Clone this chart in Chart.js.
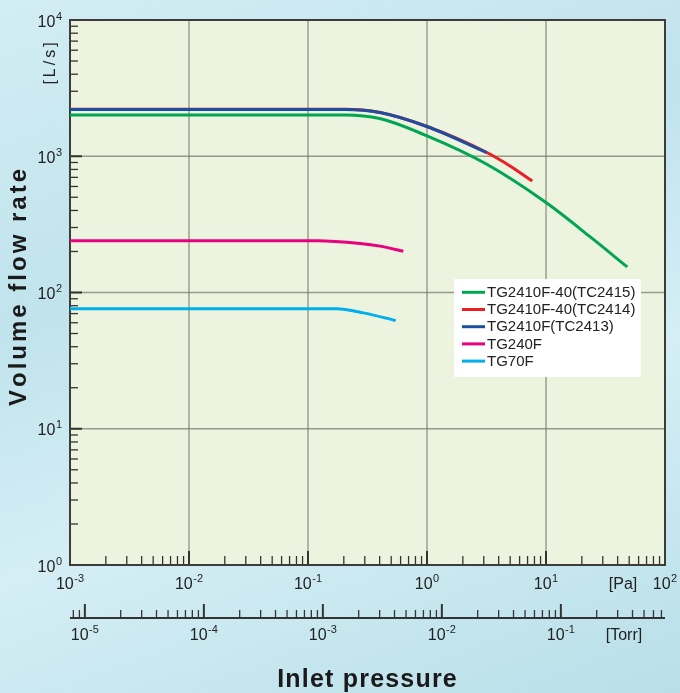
<!DOCTYPE html>
<html>
<head>
<meta charset="utf-8">
<script src="https://cdn.jsdelivr.net/npm/chart.js@4.4.1/dist/chart.umd.min.js"></script>
<style>
  html, body { margin: 0; padding: 0; }
  body {
    width: 680px; height: 693px; overflow: hidden;
    background: linear-gradient(160deg, #d3edf4 0%, #c0e3ec 35%, #d5eef5 62%, #b8dfe8 100%);
  }
  canvas { display: block; }
</style>
</head>
<body>
<canvas id="myChart" width="680" height="693"></canvas>
<script>
// volume flow rate vs inlet pressure
var seriesLabels = ['TG2410F-40(TC2415)', 'TG2410F-40(TC2414)', 'TG2410F(TC2413)', 'TG240F', 'TG70F'];
var seriesColors = ['#00a651', '#ee1c25', '#1d4ea0', '#e8007f', '#00afec'];

// pressure [Pa] and flow [L/s]
var xGreen = [0.001, 0.205, 0.40, 1, 3.18, 10, 23.4, 48.2];
var yGreen = [2010, 2010, 1890, 1410, 873, 457, 257, 154];
var xRed = [0.001, 0.205, 0.403, 1, 3.18, 4.98, 7.67];
var yRed = [2210, 2210, 2094, 1653, 1065, 849, 658];
var xBlue = [0.001, 0.205, 0.403, 1, 3.18];
var yBlue = [2207, 2207, 2094, 1653, 1065];
var xPink = [0.001, 0.119, 0.274, 0.403, 0.632];
var yPink = [240, 240, 229, 219, 201];
var xCyan = [0.001, 0.174, 0.292, 0.546];
var yCyan = [76, 76, 70.9, 62.2];

// tick labels (powers of ten)
var paExponents = [-3, -2, -1, 0, 1, 2];
var torrExponents = [-5, -4, -3, -2, -1];
var flowExponents = [0, 1, 2, 3, 4];
var PA_PER_TORR = 133.322;

var FONT = '"Liberation Sans", Arial, sans-serif';

function pts(xs, ys) {
  return xs.map(function (v, i) { return { x: v, y: ys[i] }; });
}

function drawPow(ctx, exp, x, y, align) {
  ctx.font = '16px ' + FONT;
  var wb = ctx.measureText('10').width;
  ctx.font = '11px ' + FONT;
  var we = ctx.measureText(String(exp)).width;
  var w = wb + we + 0.5;
  var x0 = align === 'right' ? x - w : x - w / 2;
  ctx.textAlign = 'left';
  ctx.textBaseline = 'alphabetic';
  ctx.font = '16px ' + FONT;
  ctx.fillText('10', x0, y);
  ctx.font = '11px ' + FONT;
  ctx.fillText(String(exp), x0 + wb + 0.5, y - 7);
}

function spaced(ctx, text, x, y, sp) {
  var chars = text.split('');
  var total = 0;
  chars.forEach(function (c) { total += ctx.measureText(c).width; });
  total += sp * (chars.length - 1);
  var cx = x - total / 2;
  ctx.textAlign = 'left';
  chars.forEach(function (c) {
    ctx.fillText(c, cx, y);
    cx += ctx.measureText(c).width + sp;
  });
}

var decor = {
  id: 'decor',
  beforeDatasetsDraw: function (chart) {
    var ctx = chart.ctx, a = chart.chartArea;
    var xs = chart.scales.x, ys = chart.scales.y;
    ctx.save();
    ctx.fillStyle = '#ecf3de';
    ctx.fillRect(a.left, a.top, a.right - a.left, a.bottom - a.top);

    // major grid
    ctx.strokeStyle = 'rgba(115,115,105,0.7)';
    ctx.lineWidth = 1.4;
    paExponents.forEach(function (e) {
      var px = xs.getPixelForValue(Math.pow(10, e));
      ctx.beginPath(); ctx.moveTo(px, a.top); ctx.lineTo(px, a.bottom); ctx.stroke();
    });
    flowExponents.forEach(function (e) {
      var py = ys.getPixelForValue(Math.pow(10, e));
      ctx.beginPath(); ctx.moveTo(a.left, py); ctx.lineTo(a.right, py); ctx.stroke();
    });

    // inner ticks
    ctx.strokeStyle = '#333';
    paExponents.forEach(function (e, i) {
      var px = xs.getPixelForValue(Math.pow(10, e));
      ctx.lineWidth = 2;
      ctx.beginPath(); ctx.moveTo(px, a.bottom); ctx.lineTo(px, a.bottom - 14); ctx.stroke();
      if (i === paExponents.length - 1) return;
      ctx.lineWidth = 1.3;
      for (var m = 2; m <= 9; m++) {
        var q = xs.getPixelForValue(m * Math.pow(10, e));
        ctx.beginPath(); ctx.moveTo(q, a.bottom); ctx.lineTo(q, a.bottom - 9); ctx.stroke();
      }
    });
    flowExponents.forEach(function (e, i) {
      var py = ys.getPixelForValue(Math.pow(10, e));
      ctx.lineWidth = 2;
      ctx.beginPath(); ctx.moveTo(a.left, py); ctx.lineTo(a.left + 12, py); ctx.stroke();
      if (i === flowExponents.length - 1) return;
      ctx.lineWidth = 1.3;
      for (var m = 2; m <= 9; m++) {
        var q = ys.getPixelForValue(m * Math.pow(10, e));
        ctx.beginPath(); ctx.moveTo(a.left, q); ctx.lineTo(a.left + 8, q); ctx.stroke();
      }
    });

    // frame
    ctx.strokeStyle = '#3c3c3c';
    ctx.lineWidth = 2;
    ctx.strokeRect(a.left, a.top, a.right - a.left, a.bottom - a.top);
    ctx.restore();
  },
  afterDatasetsDraw: function (chart) {
    var ctx = chart.ctx, a = chart.chartArea;
    var xs = chart.scales.x, ys = chart.scales.y, ts = chart.scales.torr;
    ctx.save();
    ctx.fillStyle = '#222';

    // tick labels
    flowExponents.forEach(function (e) {
      var py = ys.getPixelForValue(Math.pow(10, e));
      drawPow(ctx, e, 62, py + 6.5, 'right');
    });
    paExponents.forEach(function (e) {
      var px = xs.getPixelForValue(Math.pow(10, e));
      drawPow(ctx, e, px, a.bottom + 24, 'center');
    });
    ctx.font = '16px ' + FONT;
    ctx.textAlign = 'center';
    ctx.fillText('[Pa]', 623, a.bottom + 24);

    // Torr axis
    var ty = a.bottom + 53;
    ctx.strokeStyle = '#333';
    ctx.lineWidth = 2;
    ctx.beginPath(); ctx.moveTo(a.left, ty); ctx.lineTo(a.right, ty); ctx.stroke();
    for (var e = -6; e <= -1; e++) {
      for (var m = 1; m <= 9; m++) {
        var v = m * Math.pow(10, e);
        if (v < ts.min || v > ts.max) continue;
        var px = ts.getPixelForValue(v);
        ctx.lineWidth = m === 1 ? 2 : 1.3;
        ctx.beginPath(); ctx.moveTo(px, ty); ctx.lineTo(px, ty - (m === 1 ? 14 : 8)); ctx.stroke();
      }
    }
    torrExponents.forEach(function (e) {
      var px = ts.getPixelForValue(Math.pow(10, e));
      drawPow(ctx, e, px, ty + 22, 'center');
    });
    ctx.font = '16px ' + FONT;
    ctx.textAlign = 'center';
    ctx.fillText('[Torr]', 624, ty + 22);

    // axis titles
    ctx.fillStyle = '#1a1a1a';
    ctx.font = 'bold 25px ' + FONT;
    ctx.textBaseline = 'alphabetic';
    spaced(ctx, 'Inlet pressure', 367, 687, 1.2);

    ctx.save();
    ctx.translate(26, 287.5);
    ctx.rotate(-Math.PI / 2);
    ctx.font = 'bold 24px ' + FONT;
    spaced(ctx, 'Volume flow rate', 0, 0, 3);
    ctx.restore();

    ctx.save();
    ctx.fillStyle = '#222';
    ctx.translate(55, 63.5);
    ctx.rotate(-Math.PI / 2);
    ctx.font = '16px ' + FONT;
    spaced(ctx, '[L/s]', 0, 0, 3);
    ctx.restore();

    // legend
    ctx.fillStyle = '#ffffff';
    ctx.fillRect(454, 279, 187, 98);
    ctx.font = '15px ' + FONT;
    ctx.textAlign = 'left';
    ctx.textBaseline = 'middle';
    chart.data.datasets.forEach(function (ds, i) {
      var ly = 292.3 + i * 17.2;
      ctx.strokeStyle = ds.borderColor;
      ctx.lineWidth = 3;
      ctx.beginPath(); ctx.moveTo(462, ly); ctx.lineTo(485, ly); ctx.stroke();
      ctx.fillStyle = '#222';
      ctx.fillText(ds.label, 487, ly + 0.5);
    });
    ctx.restore();
  }
};

var sets = [pts(xGreen, yGreen), pts(xRed, yRed), pts(xBlue, yBlue), pts(xPink, yPink), pts(xCyan, yCyan)];

var ctx = document.getElementById('myChart').getContext('2d');
var myChart = new Chart(ctx, {
  type: 'line',
  data: {
    datasets: sets.map(function (d, i) {
      return {
        label: seriesLabels[i],
        data: d,
        borderColor: seriesColors[i],
        borderWidth: 3,
        pointRadius: 0,
        fill: false,
        cubicInterpolationMode: 'monotone',
        order: i === 1 ? 1 : 0
      };
    })
  },
  options: {
    responsive: false,
    animation: false,
    devicePixelRatio: 1,
    layout: { padding: { left: 70, top: 20, right: 15, bottom: 128 } },
    plugins: { legend: { display: false }, tooltip: { enabled: false } },
    scales: {
      x: { type: 'logarithmic', min: 1e-3, max: 1e2, display: false },
      torr: { type: 'logarithmic', axis: 'x', position: 'bottom', min: 1e-3 / PA_PER_TORR, max: 1e2 / PA_PER_TORR, display: false },
      y: { type: 'logarithmic', min: 1, max: 1e4, display: false }
    }
  },
  plugins: [decor]
});
</script>
</body>
</html>
